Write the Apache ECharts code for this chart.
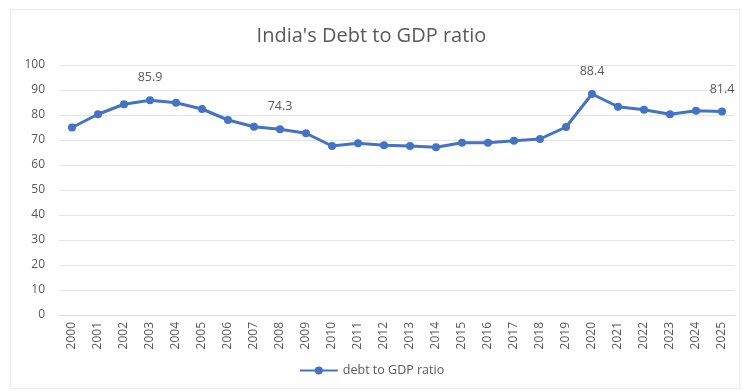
<!DOCTYPE html>
<html>
<head>
<meta charset="utf-8">
<script src="https://cdn.jsdelivr.net/npm/echarts@6/dist/echarts.min.js"></script>
<style>
html,body{margin:0;padding:0;background:#fff;}
#frame{position:absolute;left:10px;top:9px;width:730px;height:380px;border:1px solid #ececec;box-sizing:border-box;}
#chart{position:absolute;left:0;top:0;width:743px;height:391px;}
</style>
</head>
<body>
<div id="frame"></div>
<div id="chart"></div>
<script>
const years = ['2000','2001','2002','2003','2004','2005','2006','2007','2008','2009','2010','2011','2012','2013','2014','2015','2016','2017','2018','2019','2020','2021','2022','2023','2024','2025'];
const debtRatio = [75.0, 80.3, 84.3, 85.9, 84.9, 82.4, 78.0, 75.3, 74.3, 72.7, 67.6, 68.7, 67.9, 67.6, 67.1, 68.9, 68.9, 69.7, 70.4, 75.2, 88.4, 83.3, 82.1, 80.3, 81.7, 81.4];
const labeledYears = ['2003','2008','2020','2025'];
const seriesName = 'debt to GDP ratio';
const titleText = "India's Debt to GDP ratio";

const font = "'Open Sans', 'Noto Sans', sans-serif";
const chart = echarts.init(document.getElementById('chart'), null, {renderer:'canvas'});
const seriesData = debtRatio.map((v, i) => ({
  value: v,
  label: { show: labeledYears.indexOf(years[i]) >= 0 }
}));
chart.setOption({
  backgroundColor: 'transparent',
  animation: false,
  title: {
    text: titleText,
    left: 'center',
    top: 21,
    textStyle: { fontFamily: font, fontSize: 20, fontWeight: 'normal', color: '#595959' }
  },
  legend: {
    data: [seriesName],
    bottom: 9,
    left: 'center',
    itemWidth: 38,
    itemHeight: 10,
    itemGap: 4,
    textStyle: { fontFamily: font, fontSize: 12.5, color: '#595959' }
  },
  grid: { left: 59, right: 8, top: 65, bottom: 76, containLabel: false },
  xAxis: {
    type: 'category',
    data: years,
    boundaryGap: true,
    axisLine: { lineStyle: { color: '#d9d9d9' } },
    axisTick: { show: false },
    axisLabel: { rotate: 90, color: '#595959', fontFamily: font, fontSize: 12, margin: 7, interval: 0 }
  },
  yAxis: {
    type: 'value',
    min: 0, max: 100, interval: 10,
    axisLine: { show: false },
    axisTick: { show: false },
    axisLabel: { color: '#595959', fontFamily: font, fontSize: 12, margin: 14 },
    splitLine: { lineStyle: { color: '#e4e4e4', width: 1 } }
  },
  series: [{
    name: seriesName,
    type: 'line',
    data: seriesData,
    symbol: 'circle',
    symbolSize: 8,
    lineStyle: { color: '#4472C4', width: 3 },
    itemStyle: { color: '#4472C4' },
    label: { position: 'top', distance: 12, color: '#595959', fontFamily: font, fontSize: 12.5 }
  }]
});
</script>
</body>
</html>
